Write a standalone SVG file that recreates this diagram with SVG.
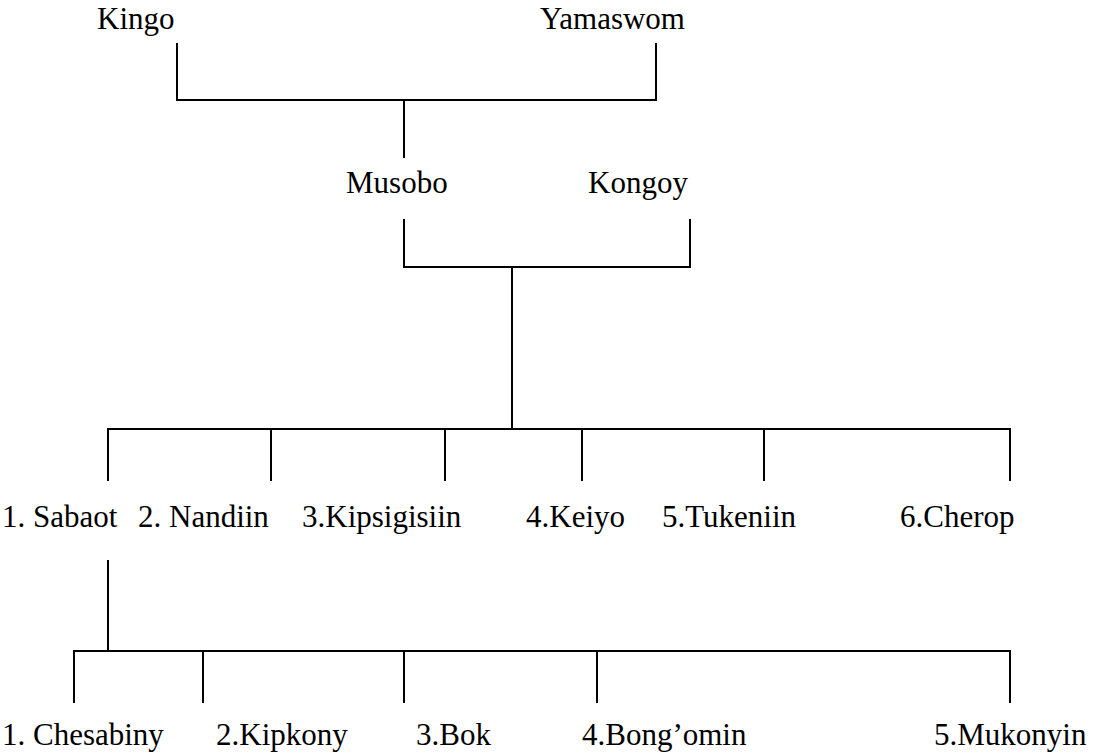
<svg xmlns="http://www.w3.org/2000/svg" width="1094" height="755" viewBox="0 0 1094 755">
<style>
.t text{font-family:'Liberation Serif','Times New Roman',Times,serif;font-size:31px;fill:#000}
.c line{stroke:#000;stroke-width:2;fill:none}
</style>
<rect width="1094" height="755" fill="#fff"/>
<g id="connectors" class="c">
<line x1="177" y1="43" x2="177" y2="100"/>
<line x1="656" y1="43" x2="656" y2="100"/>
<line x1="176" y1="100" x2="657" y2="100"/>
<line x1="404" y1="100" x2="404" y2="158"/>
<line x1="404" y1="219" x2="404" y2="267"/>
<line x1="690" y1="219" x2="690" y2="267"/>
<line x1="403" y1="267" x2="691" y2="267"/>
<line x1="512" y1="267" x2="512" y2="429"/>
<line x1="107" y1="429" x2="1011" y2="429"/>
<line x1="108" y1="429" x2="108" y2="481"/>
<line x1="271" y1="429" x2="271" y2="481"/>
<line x1="445" y1="429" x2="445" y2="481"/>
<line x1="582" y1="429" x2="582" y2="481"/>
<line x1="764" y1="429" x2="764" y2="481"/>
<line x1="1010" y1="429" x2="1010" y2="481"/>
<line x1="108" y1="560" x2="108" y2="651"/>
<line x1="73" y1="651" x2="1011" y2="651"/>
<line x1="74" y1="651" x2="74" y2="703"/>
<line x1="203" y1="651" x2="203" y2="703"/>
<line x1="404" y1="651" x2="404" y2="703"/>
<line x1="597" y1="651" x2="597" y2="703"/>
<line x1="1010" y1="651" x2="1010" y2="703"/>
</g>
<g class="t" font-family="'Liberation Serif', serif" font-size="31">
<g id="kingo"><text x="97" y="29">Kingo</text></g>
<g id="yamaswom"><text x="540" y="29">Yamaswom</text></g>
<g id="musobo"><text x="346" y="193">Musobo</text></g>
<g id="kongoy"><text x="588" y="193">Kongoy</text></g>
<g id="sabaot"><text x="2" y="527">1. Sabaot</text></g>
<g id="nandiin"><text x="138" y="527">2. Nandiin</text></g>
<g id="kipsigisiin"><text x="302" y="527">3.Kipsigisiin</text></g>
<g id="keiyo"><text x="526" y="527">4.Keiyo</text></g>
<g id="tukeniin"><text x="662" y="527">5.Tukeniin</text></g>
<g id="cherop"><text x="900" y="527">6.Cherop</text></g>
<g id="chesabiny"><text x="2" y="745">1. Chesabiny</text></g>
<g id="kipkony"><text x="216" y="745">2.Kipkony</text></g>
<g id="bok"><text x="416" y="745">3.Bok</text></g>
<g id="bongomin"><text x="582" y="745">4.Bong’omin</text></g>
<g id="mukonyin"><text x="934" y="745">5.Mukonyin</text></g>
</g>
</svg>
